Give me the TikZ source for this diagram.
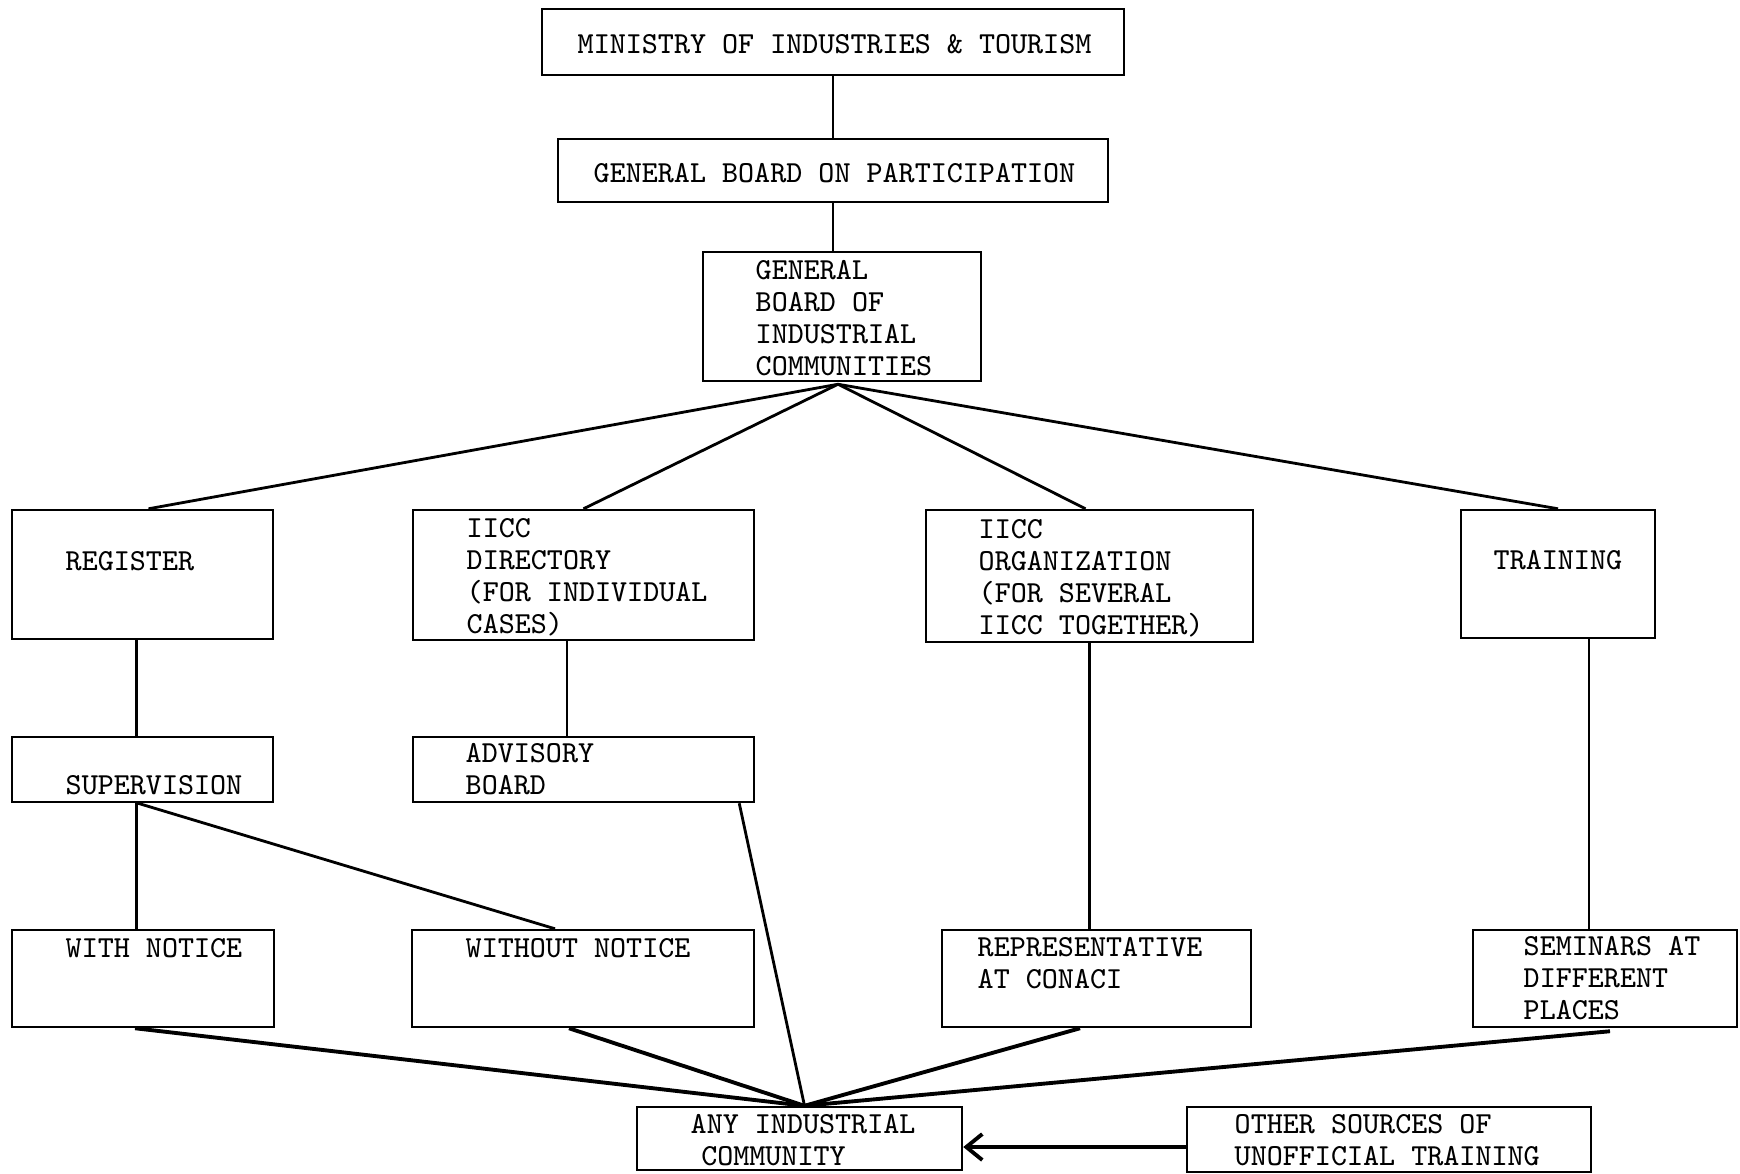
\documentclass[tikz,border=0pt]{standalone}
\usetikzlibrary{fit,arrows.meta}

\begin{document}
\begin{tikzpicture}[x=0.1mm, y=-0.1mm,
    box/.style={draw, line width=0.7pt, inner sep=0pt},
    lbl/.style={anchor=base west, inner sep=0pt, align=left,
        font=\fontsize{8.7}{9.1}\selectfont\ttfamily},
    link/.style={line width=0.8pt},
    feed/.style={line width=1.1pt}]
    \useasboundingbox (0,0) rectangle (1740,1173);

    % Boxes
    \node[box, fit={(542,9) (1124,75)}] (min) {};
    \node[box, fit={(558,139) (1108,202)}] (gbp) {};
    \node[box, fit={(703,252) (981,381)}] (gbic) {};
    \node[box, fit={(12,510) (273,639)}] (reg) {};
    \node[box, fit={(413,510) (754,640)}] (dir) {};
    \node[box, fit={(926,510) (1253,642)}] (org) {};
    \node[box, fit={(1461,510) (1655,638)}] (trn) {};
    \node[box, fit={(12,737) (273,802)}] (sup) {};
    \node[box, fit={(413,737) (754,802)}] (adv) {};
    \node[box, fit={(12,930) (274,1027)}] (wn) {};
    \node[box, fit={(412,930) (754,1027)}] (won) {};
    \node[box, fit={(942,930) (1251,1027)}] (rep) {};
    \node[box, fit={(1473,930) (1737,1027)}] (sem) {};
    \node[box, fit={(637,1107) (962,1170)}] (aic) {};
    \node[box, fit={(1187,1107) (1591,1172)}] (oth) {};

    % Labels (multi-line ones sit on their last baseline)
    \node[lbl] (min-t) at (577,53) {MINISTRY OF INDUSTRIES \& TOURISM};
    \node[lbl] (gbp-t) at (593,182) {GENERAL BOARD ON PARTICIPATION};
    \node[lbl] (gbic-t) at (755,375) {GENERAL\\BOARD OF\\INDUSTRIAL\\COMMUNITIES};
    \node[lbl] (reg-t) at (65,570) {REGISTER};
    \node[lbl] (dir-t) at (466,633) {IICC\\DIRECTORY\\(FOR INDIVIDUAL\\CASES)};
    \node[lbl] (org-t) at (978,634) {IICC\\ORGANIZATION\\(FOR SEVERAL\\IICC TOGETHER)};
    \node[lbl] (trn-t) at (1493,569) {TRAINING};
    \node[lbl] (sup-t) at (65,794) {SUPERVISION};
    \node[lbl] (adv-t) at (465,794) {ADVISORY\\BOARD};
    \node[lbl] (wn-t) at (65,957) {WITH NOTICE};
    \node[lbl] (won-t) at (465,957) {WITHOUT NOTICE};
    \node[lbl] (rep-t) at (977,988) {REPRESENTATIVE\\AT CONACI};
    \node[lbl] (sem-t) at (1523,1019) {SEMINARS AT\\DIFFERENT\\PLACES};
    \node[lbl] (aic-t) at (690,1165) {ANY INDUSTRIAL\\\hspace*{3pt}COMMUNITY};
    \node[lbl] (oth-t) at (1234,1165) {OTHER SOURCES OF\\UNOFFICIAL TRAINING};

    % Top chain
    \draw[link] (min) -- (gbp);
    \draw[link] (gbp.south) -- (gbp.south |- gbic.north);

    % Fan out
    \coordinate (apex) at ([xshift=-.4mm,yshift=-.2mm]gbic.south);
    \draw[link] (apex) -- ([xshift=.6mm]reg.north);
    \draw[link] (apex) -- (dir.north);
    \draw[link] (apex) -- ([xshift=-.4mm]org.north);
    \draw[link] (apex) -- (trn.north);

    % Down lines
    \draw[link] ([xshift=-.6mm]reg.south) -- ([xshift=-.6mm]sup.north);
    \draw[link] ([xshift=-1.65mm]dir.south) -- ([xshift=-1.65mm]adv.north);
    \draw[link] ([xshift=-.6mm]sup.south) -- ([xshift=-.6mm]sup.south |- wn.north);
    \draw[link] ([xshift=-.45mm]sup.south) -- ([xshift=-2.8mm]won.north);
    \draw[link] (org.south) -- (org.south |- rep.north);
    \draw[link] ([xshift=3.1mm]trn.south) -- ([xshift=3.1mm]trn.south |- sem.north);

    % Into any industrial community
    \coordinate (hub) at ([xshift=.5mm]aic.north);
    \draw[link] ([xshift=-1.6mm]adv.south east) -- (hub);
    \draw[feed] ([xshift=-.8mm]wn.south) -- (hub);
    \draw[feed] ([xshift=-1.4mm]won.south) -- (hub);
    \draw[feed] ([xshift=-1.65mm]rep.south) -- (hub);
    \draw[feed] ([xshift=.5mm,yshift=-.3mm]sem.south) -- (hub);
    \draw[feed, -{Straight Barb[length=1.6mm, width=2.6mm]}]
        ([yshift=-.75mm]oth.west) -- ([yshift=-.75mm]oth.west -| aic.east);
\end{tikzpicture}
\end{document}
